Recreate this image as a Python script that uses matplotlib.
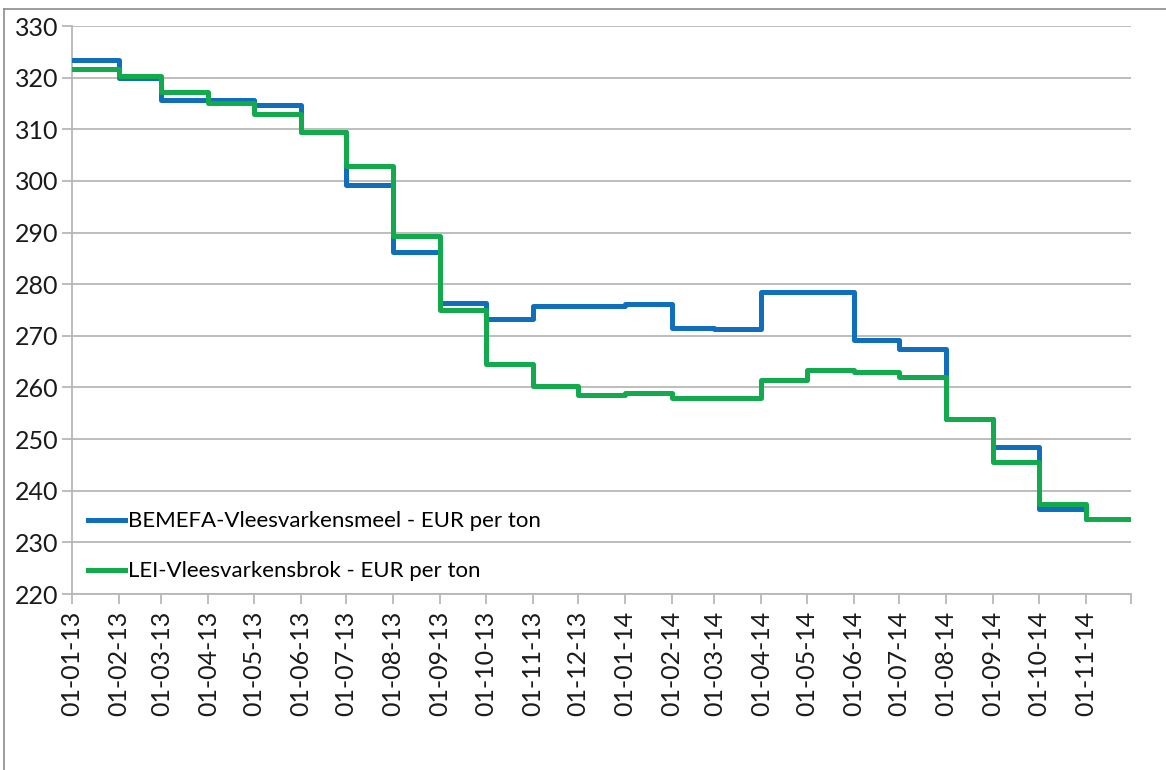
import datetime as dt

import matplotlib

matplotlib.use("Agg")
import matplotlib.pyplot as plt
from matplotlib.lines import Line2D

# monthly prices, each value holds from the first of the month
months = [dt.date(2013 + (m // 12), m % 12 + 1, 1) for m in range(24)]  # 01-01-13 .. 01-12-14
bemefa = [323.5, 319.9, 315.7, 315.6, 314.7, 309.4, 299.2, 286.3, 276.4, 273.2, 275.7, 275.8,
          276.2, 271.5, 271.3, 278.4, 278.4, 269.1, 267.4, 253.9, 248.4, 236.4, 234.5]
lei = [321.6, 320.3, 317.3, 315.0, 313.0, 309.4, 302.9, 289.4, 275.0, 264.5, 260.2, 258.5,
       258.9, 258.0, 258.0, 261.5, 263.4, 263.0, 262.0, 253.9, 245.5, 237.4, 234.5]
tick_labels = [d.strftime("%d-%m-%y") for d in months[:-1]] + [""]

plt.rcParams["font.family"] = ["Lato", "DejaVu Sans"]

fig = plt.figure(figsize=(11.66, 7.7), dpi=100)
ax = fig.add_axes([72 / 1166, 1 - 594 / 770, (1131 - 72) / 1166, (594 - 26) / 770])

# outer chart border (only top and left visible in the reference)
fig.add_artist(Line2D([4 / 1166, 4 / 1166], [0, 1 - 9 / 770], transform=fig.transFigure,
                      color="#8c8c8c", lw=1.2))
fig.add_artist(Line2D([4 / 1166, 1], [1 - 9 / 770, 1 - 9 / 770], transform=fig.transFigure,
                      color="#8c8c8c", lw=1.2))

ax.step(months, bemefa + [bemefa[-1]], where="post", color="#0f6fbd", lw=3.6,
        label="BEMEFA-Vleesvarkensmeel - EUR per ton", zorder=3)
ax.step(months, lei + [lei[-1]], where="post", color="#13aa4e", lw=3.6,
        label="LEI-Vleesvarkensbrok - EUR per ton", zorder=4)

ax.set_xlim(months[0], months[-1])
ax.set_ylim(220, 330)
ax.set_yticks(range(220, 331, 10))
ax.set_xticks(months)
ax.set_xticklabels(tick_labels, rotation=90)

ax.grid(axis="y", color="#b7b7b7", lw=1.3)
ax.set_axisbelow(True)
for side in ["top", "right"]:
    ax.spines[side].set_visible(False)
for side in ["left", "bottom"]:
    ax.spines[side].set_color("#b7b7b7")
    ax.spines[side].set_linewidth(1.3)
ax.tick_params(axis="both", colors="#b7b7b7", labelcolor="#1a1a1a", labelsize=18, length=7, width=1.3)
ax.tick_params(axis="y", pad=3)
ax.tick_params(axis="x", pad=5)

ax.legend(loc="lower left", bbox_to_anchor=(0.0, -0.005), frameon=False, fontsize=16,
          handlelength=1.7, handletextpad=0.1, labelspacing=1.35, borderaxespad=0.3)

fig.savefig("out.png", dpi=100, facecolor="white")
